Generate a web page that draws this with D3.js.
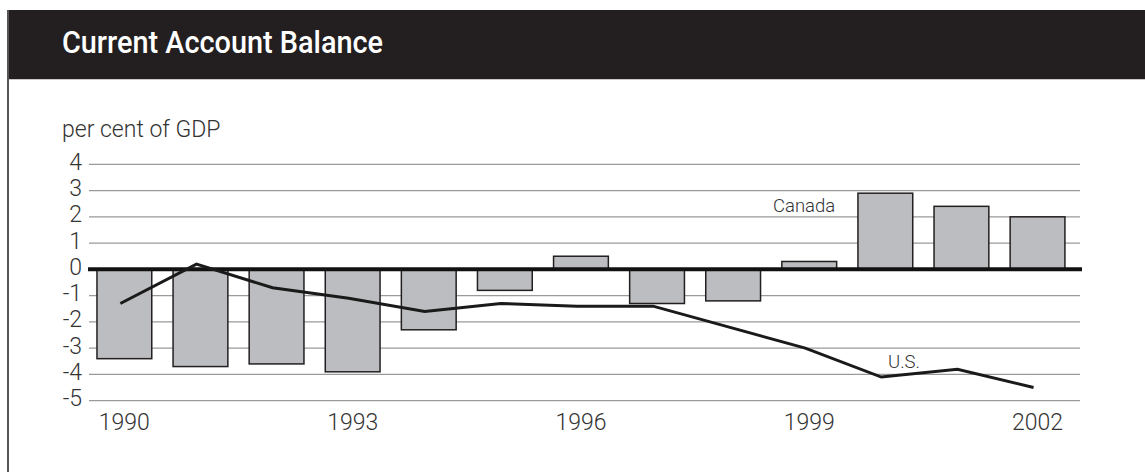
<!DOCTYPE html>
<html>
<head>
<meta charset="utf-8">
<script src="https://cdn.jsdelivr.net/npm/d3@7"></script>
<style>
  html, body { margin: 0; padding: 0; background: #fff; }
  svg { display: block; }
</style>
</head>
<body>
<svg id="chart" width="1145" height="472"></svg>
<script>
const years = ["1990","1991","1992","1993","1994","1995","1996","1997","1998","1999","2000","2001","2002"];
const canada = [-3.4, -3.7, -3.6, -3.9, -2.3, -0.8, 0.5, -1.3, -1.2, 0.3, 2.9, 2.4, 2.0];
const us = [-1.3, 0.2, -0.7, -1.1, -1.6, -1.3, -1.4, -1.4, -2.2, -3.0, -4.1, -3.8, -4.5];
const yTicks = [4, 3, 2, 1, 0, -1, -2, -3, -4, -5];
const xTickLabels = ["1990", "1993", "1996", "1999", "2002"];
const title = "Current Account Balance";
const unitLabel = "per cent of GDP";

const svg = d3.select("#chart");
const lightFont = "Roboto, 'Liberation Sans', Arial, sans-serif";

// Frame: title bar + left border
svg.append("rect").attr("x", 7).attr("y", 10).attr("width", 1138).attr("height", 69).attr("fill", "#231f20");
svg.append("line").attr("x1", 7).attr("x2", 1145).attr("y1", 79.5).attr("y2", 79.5).attr("stroke", "#c8c8c8").attr("stroke-width", 1);
svg.append("line").attr("x1", 8).attr("x2", 8).attr("y1", 10).attr("y2", 472).attr("stroke", "#555").attr("stroke-width", 2);
svg.append("text").attr("x", 62).attr("y", 53)
  .attr("fill", "#fff")
  .attr("font-family", "Roboto, 'Liberation Sans', sans-serif")
  .attr("font-weight", 500)
  .attr("font-size", 31)
  .attr("textLength", 321)
  .attr("lengthAdjust", "spacingAndGlyphs")
  .text(title);

// Scales
const gridX0 = 89, gridX1 = 1080;
const y = d3.scaleLinear().domain([-5, 4]).range([400.7, 164.3]);
const x = d3.scaleBand().domain(years).range([88.6, 1073.3]).paddingInner(0.28).paddingOuter(0.11);

// Unit label
svg.append("text").attr("x", 62).attr("y", 137)
  .attr("fill", "#333").attr("font-family", lightFont).attr("font-weight", 300)
  .attr("font-size", 23).text(unitLabel);

// Gridlines
svg.append("g").selectAll("line").data(yTicks.filter(d => d !== 0)).join("line")
  .attr("x1", gridX0).attr("x2", gridX1)
  .attr("y1", d => y(d)).attr("y2", d => y(d))
  .attr("stroke", "#9a9a9a").attr("stroke-width", 1.2);

// Y axis labels
const yAxis = d3.axisLeft(y).tickValues(yTicks).tickSize(0).tickPadding(0).tickFormat(d => String(d));
const gy = svg.append("g").attr("transform", "translate(82,0)").call(yAxis);
gy.select(".domain").remove();
gy.selectAll("text").attr("fill", "#333").attr("font-family", lightFont).attr("font-weight", 300)
  .attr("font-size", 23).attr("dy", "0.22em");

// Bars (Canada)
svg.append("g").selectAll("rect").data(years).join("rect")
  .attr("x", d => x(d))
  .attr("width", x.bandwidth())
  .attr("y", (d, i) => Math.min(y(canada[i]), y(0)))
  .attr("height", (d, i) => Math.abs(y(canada[i]) - y(0)))
  .attr("fill", "#bcbdc0").attr("stroke", "#231f20").attr("stroke-width", 1.5);

// Zero line
svg.append("line").attr("x1", 88).attr("x2", 1082).attr("y1", y(0)).attr("y2", y(0))
  .attr("stroke", "#111").attr("stroke-width", 4);

// U.S. line
const line = d3.line().x((d, i) => x(years[i]) + x.bandwidth() / 2 - 4).y(d => y(d));
svg.append("path").datum(us).attr("d", line)
  .attr("fill", "none").attr("stroke", "#1a1a1a").attr("stroke-width", 3).attr("stroke-linejoin", "miter");

// X axis labels
const xAxis = d3.axisBottom(x).tickValues(xTickLabels).tickSize(0).tickPadding(0);
const gx = svg.append("g").attr("transform", "translate(0,430)").call(xAxis);
gx.select(".domain").remove();
gx.selectAll("text").attr("fill", "#333").attr("font-family", lightFont).attr("font-weight", 300)
  .attr("font-size", 23).attr("dy", 0);

// Series labels
svg.append("text").attr("x", 773).attr("y", 212).attr("fill", "#333")
  .attr("font-family", lightFont).attr("font-weight", 300).attr("font-size", 18.5).text("Canada");
svg.append("text").attr("x", 888).attr("y", 368).attr("fill", "#333")
  .attr("font-family", lightFont).attr("font-weight", 300).attr("font-size", 18.5).text("U.S.");
</script>
</body>
</html>
